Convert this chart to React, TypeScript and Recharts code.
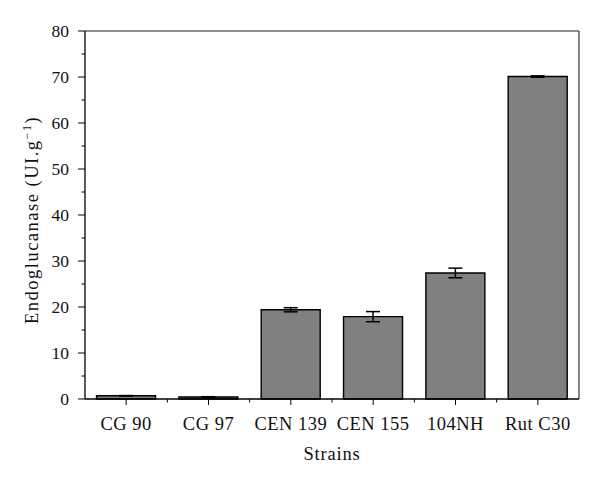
import React from "react";
import { BarChart, Bar, XAxis, YAxis, ErrorBar, Label, CartesianGrid } from "recharts";

// Endoglucanase activity per strain (UI.g-1)
const strains = ["CG 90", "CG 97", "CEN 139", "CEN 155", "104NH", "Rut C30"];
const activity = [0.7, 0.45, 19.4, 17.9, 27.4, 70.1];
const errors = [0.05, 0.05, 0.45, 1.1, 1.05, 0.15];
const yTicks = [0, 5, 10, 15, 20, 25, 30, 35, 40, 45, 50, 55, 60, 65, 70, 75, 80];

const data = strains.map((name, i) => ({ name, value: activity[i], err: errors[i] }));

const W = 600;
const H = 484;
const margin = { top: 31, right: 21, left: 0, bottom: 0 };
const yAxisWidth = 85;
const band = (W - yAxisWidth - margin.right) / strains.length;
const font = '"Liberation Serif", "Times New Roman", serif';

const YTick = ({ x, y, payload }: any) => {
  const major = payload.value % 10 === 0;
  return (
    <g>
      <line x1={x} x2={x - (major ? 7 : 3.5)} y1={y} y2={y} stroke="#000" strokeWidth={1} />
      {major && (
        <text x={x - 16} y={y} dy="0.35em" textAnchor="end" fontSize={17.5} fontFamily={font} fill="#111">
          {payload.value}
        </text>
      )}
    </g>
  );
};

const XTick = ({ x, y, payload, index }: any) => (
  <g>
    <line x1={x} x2={x} y1={y} y2={y + 6} stroke="#000" strokeWidth={1} />
    {index < strains.length - 1 && (
      <line x1={x + band / 2} x2={x + band / 2} y1={y} y2={y + 3.5} stroke="#000" strokeWidth={1} />
    )}
    <text x={x} y={y + 31} textAnchor="middle" fontSize={18.5} letterSpacing={0.5} fontFamily={font} fill="#111">
      {payload.value}
    </text>
  </g>
);

const YLabel = () => (
  <text
    transform="translate(38,220) rotate(-90)"
    textAnchor="middle"
    fontSize={18.5}
    letterSpacing={1.5}
    fontFamily={font}
    fill="#111"
  >
    Endoglucanase (UI.g
    <tspan dy={-7} fontSize={12}>−1</tspan>
    <tspan dy={7}>)</tspan>
  </text>
);

const XLabel = ({ viewBox }: any) => (
  <text
    x={viewBox.x + viewBox.width / 2}
    y={460}
    textAnchor="middle"
    fontSize={18.5}
    letterSpacing={0.8}
    fontFamily={font}
    fill="#111"
  >
    Strains
  </text>
);

export default function App() {
  return (
    <div style={{ position: "absolute", left: 0, top: 0, width: W, height: H, background: "#fff" }}>
      <BarChart width={W} height={H} data={data} margin={margin} barCategoryGap="14%">
        {/* top and right frame lines */}
        <CartesianGrid
          stroke="#222"
          strokeWidth={1.1}
          horizontalCoordinatesGenerator={({ offset }: any) => [offset.top]}
          verticalCoordinatesGenerator={({ offset }: any) => [offset.left + offset.width]}
        />
        <XAxis
          dataKey="name"
          height={85}
          interval={0}
          tickSize={0}
          tickMargin={0}
          tickLine={false}
          tick={<XTick />}
          axisLine={{ stroke: "#000", strokeWidth: 1.3 }}
        >
          <Label content={<XLabel />} />
        </XAxis>
        <YAxis
          domain={[0, 80]}
          ticks={yTicks}
          interval={0}
          width={yAxisWidth}
          tickSize={0}
          tickMargin={0}
          tickLine={false}
          tick={<YTick />}
          axisLine={{ stroke: "#000", strokeWidth: 1.3 }}
        >
          <Label content={<YLabel />} />
        </YAxis>
        <Bar dataKey="value" fill="#808080" stroke="#000" strokeWidth={1.4} isAnimationActive={false}>
          <ErrorBar dataKey="err" width={7} stroke="#000" strokeWidth={1.5} />
        </Bar>
      </BarChart>
    </div>
  );
}
